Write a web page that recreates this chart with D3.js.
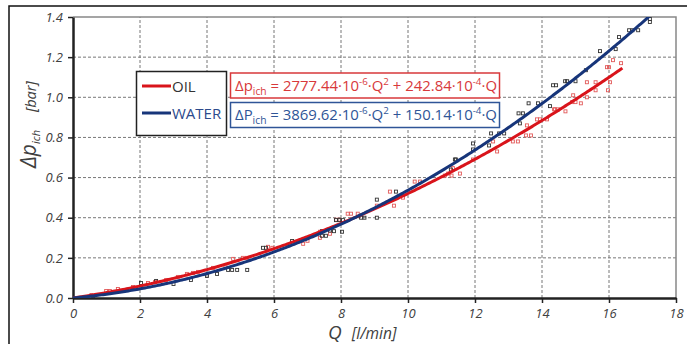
<!DOCTYPE html>
<html>
<head>
<meta charset="utf-8">
<script src="https://cdn.jsdelivr.net/npm/d3@7"></script>
<style>
  html, body { margin: 0; padding: 0; background: #fff; }
  svg { display: block; }
  text { font-family: "Open Sans", "DejaVu Sans", sans-serif; }
</style>
</head>
<body>
<svg id="chart" width="687" height="344"></svg>
<script>
// Axis ticks
const xTicks = [0, 2, 4, 6, 8, 10, 12, 14, 16, 18];
const yTicks = [0.0, 0.2, 0.4, 0.6, 0.8, 1.0, 1.2, 1.4];

// Series names and fitted coefficients [a, b] for dp = a*Q^2 + b*Q
const seriesNames = ["OIL", "WATER"];
const oilCoef = [2777.44e-6, 242.84e-4];
const waterCoef = [3869.62e-6, 150.14e-4];
const oilQmax = 16.4;
const waterQmax = 17.3;

// Measured points [Q l/min, dp bar]
const oilPoints = [
  [0.55,0.015],[0.99,0.035],[1.10,0.035],[1.34,0.045],[1.79,0.055],[2.24,0.075],
  [2.45,0.08],[2.78,0.09],[3.13,0.105],[3.40,0.12],[3.58,0.125],[3.73,0.13],
  [4.18,0.15],[4.55,0.16],[4.78,0.195],[5.07,0.2],[5.19,0.2],[5.82,0.255],
  [5.95,0.25],[6.87,0.27],[7.0,0.285],[7.37,0.33],[7.37,0.30],[7.67,0.32],
  [7.85,0.39],[7.95,0.39],[8.2,0.42],[8.3,0.42],[8.5,0.42],[9.07,0.46],
  [9.46,0.53],[9.58,0.46],[9.85,0.50],[10.2,0.58],[10.36,0.58],[11.1,0.61],
  [11.2,0.62],[11.3,0.61],[11.34,0.647],[11.55,0.62],[11.94,0.69],[12.54,0.78],
  [12.66,0.73],[13.13,0.78],[13.28,0.78],[13.52,0.81],[13.55,0.86],[13.67,0.81],
  [13.85,0.89],[13.94,0.89],[14.15,0.89],[14.36,0.94],[14.39,0.94],[14.48,0.94],
  [14.7,0.93],[14.9,0.976],[14.93,1.01],[15.0,0.976],[15.16,0.97],[15.34,1.0],
  [15.34,1.075],[15.6,1.075],[15.6,1.035],[15.94,1.15],[16.0,1.15],[15.97,1.035],
  [16.03,1.075],[16.12,1.185],[16.36,1.17]
];
const waterPoints = [
  [0.6,0.01],[1.2,0.03],[2.03,0.075],[2.48,0.085],[3.0,0.07],[3.52,0.09],
  [4.0,0.11],[4.3,0.12],[4.63,0.14],[4.75,0.14],[4.9,0.14],[5.2,0.14],
  [5.67,0.25],[5.76,0.25],[6.54,0.284],[7.43,0.333],[7.43,0.31],[7.55,0.31],
  [7.67,0.336],[7.79,0.333],[8.03,0.33],[7.85,0.388],[7.95,0.388],[8.06,0.388],
  [8.6,0.40],[8.7,0.40],[9.07,0.40],[9.07,0.49],[9.64,0.53],[11.28,0.64],
  [11.4,0.69],[11.43,0.69],[11.94,0.77],[11.94,0.74],[12.42,0.76],[12.48,0.82],
  [12.72,0.82],[12.87,0.82],[13.34,0.87],[13.3,0.92],[13.43,0.92],[13.6,0.97],
  [13.88,0.97],[14.24,0.956],[14.33,1.06],[14.42,1.06],[14.69,1.08],[14.75,1.08],
  [15.0,1.08],[15.31,1.135],[15.73,1.23],[16.2,1.24],[16.3,1.30],[16.6,1.334],
  [16.7,1.334],[16.87,1.334],[17.22,1.39],[17.22,1.375]
];

const svg = d3.select("#chart");
const x = d3.scaleLinear().domain([0, 18]).range([73, 676]);
const y = d3.scaleLinear().domain([0, 1.4]).range([298, 17]);

const RED = "#d9141b", NAVY = "#17357a";
const RED_TXT = "#d8393b", BLUE_TXT = "#2f5597";

// Outer frame
svg.append("path").attr("d", "M9,344 V6 H687")
  .attr("fill", "none").attr("stroke", "#111").attr("stroke-width", 1.5);

// Clip to plot area
svg.append("defs").append("clipPath").attr("id", "plotClip")
  .append("rect").attr("x", x(0)).attr("y", y(1.4))
  .attr("width", x(18) - x(0)).attr("height", y(0) - y(1.4));

// Grid
const grid = svg.append("g");
grid.selectAll(".gx").data(xTicks.filter(t => t > 0 && t < 18)).join("line")
  .attr("x1", d => x(d)).attr("x2", d => x(d))
  .attr("y1", y(0)).attr("y2", y(1.4))
  .attr("stroke", "#777").attr("stroke-width", 1).attr("stroke-dasharray", "3,2");
grid.selectAll(".gy").data(yTicks.filter(t => t > 0 && t < 1.4)).join("line")
  .attr("x1", x(0)).attr("x2", x(18))
  .attr("y1", d => y(d)).attr("y2", d => y(d))
  .attr("stroke", "#777").attr("stroke-width", 1).attr("stroke-dasharray", "3,2");

// Top and right border of the plot
svg.append("path")
  .attr("d", `M${x(0)},${y(1.4)} H${x(18)} V${y(0)}`)
  .attr("fill", "none").attr("stroke", "#888").attr("stroke-width", 1.5);

// Axes
const xAxis = svg.append("g").attr("transform", `translate(0,${y(0)})`)
  .call(d3.axisBottom(x).tickValues(xTicks).tickSize(5).tickSizeOuter(0).tickFormat(d3.format("d")));
const yAxis = svg.append("g").attr("transform", `translate(${x(0)},0)`)
  .call(d3.axisLeft(y).tickValues(yTicks).tickSize(5).tickSizeOuter(0).tickFormat(d3.format(".1f")));
[xAxis, yAxis].forEach(g => {
  g.select(".domain").attr("stroke", "#222").attr("stroke-width", 2.5);
  g.selectAll(".tick line").attr("stroke", "#222").attr("stroke-width", 1.5);
  g.selectAll(".tick text").attr("fill", "#404040").attr("font-size", 13)
    .attr("font-style", "italic").attr("font-family", "'Open Sans', sans-serif");
});
xAxis.selectAll(".tick text").attr("y", 11).attr("dy", "0.71em");
yAxis.selectAll(".tick text").attr("x", -10);

// Data points
const plot = svg.append("g").attr("clip-path", "url(#plotClip)");
plot.selectAll(".po").data(oilPoints).join("rect")
  .attr("x", d => x(d[0]) - 1.5).attr("y", d => y(d[1]) - 1.5)
  .attr("width", 3).attr("height", 3)
  .attr("fill", "none").attr("stroke", "#e25a5a").attr("stroke-width", 0.9);
plot.selectAll(".pw").data(waterPoints).join("rect")
  .attr("x", d => x(d[0]) - 1.5).attr("y", d => y(d[1]) - 1.5)
  .attr("width", 3).attr("height", 3)
  .attr("fill", "none").attr("stroke", "#333").attr("stroke-width", 0.9);

// Fitted curves
const curve = (c, qMax) => d3.range(0, qMax + 1e-9, 0.05).map(q => [q, c[0] * q * q + c[1] * q]);
const line = d3.line().x(d => x(d[0])).y(d => y(d[1]));
plot.append("path").datum(curve(oilCoef, oilQmax)).attr("d", line)
  .attr("fill", "none").attr("stroke", RED).attr("stroke-width", 3);
plot.append("path").datum(curve(waterCoef, waterQmax)).attr("d", line)
  .attr("fill", "none").attr("stroke", NAVY).attr("stroke-width", 3);

// Legend
const lg = svg.append("g");
lg.append("rect").attr("x", 136.5).attr("y", 71.5).attr("width", 90).attr("height", 64)
  .attr("fill", "#fff").attr("stroke", "#222").attr("stroke-width", 1.5);
[[RED, "#333", 86], [NAVY, "#2c4a8c", 113]].forEach((s, i) => {
  lg.append("line").attr("x1", 142).attr("x2", 171).attr("y1", s[2]).attr("y2", s[2])
    .attr("stroke", s[0]).attr("stroke-width", 3);
  lg.append("text").attr("x", 172).attr("y", s[2] + 5.5).attr("font-size", 15)
    .attr("fill", s[1]).text(seriesNames[i]);
});

// Equation boxes
function equation(yTop, color, sym, coefs) {
  const g = svg.append("g");
  g.append("rect").attr("x", 230.5).attr("y", yTop + 0.5).attr("width", 269).attr("height", 25)
    .attr("fill", "#fff").attr("stroke", color).attr("stroke-width", 1.5);
  const t = g.append("text").attr("x", 235).attr("y", yTop + 18).attr("font-size", 14.5)
    .attr("fill", color);
  t.append("tspan").text("\u0394" + sym);
  t.append("tspan").attr("font-size", 10).attr("dy", 4).text("ich");
  t.append("tspan").attr("dy", -4).text(` = ${coefs[0]}\u00b710`);
  t.append("tspan").attr("font-size", 9.5).attr("dy", -6).text("-6");
  t.append("tspan").attr("dy", 6).text("\u00b7Q");
  t.append("tspan").attr("font-size", 9.5).attr("dy", -6).text("2");
  t.append("tspan").attr("dy", 6).text(` + ${coefs[1]}\u00b710`);
  t.append("tspan").attr("font-size", 9.5).attr("dy", -6).text("-4");
  t.append("tspan").attr("dy", 6).text("\u00b7Q");
  t.attr("textLength", 262).attr("lengthAdjust", "spacingAndGlyphs");
}
equation(72.5, RED_TXT, "p", ["2777.44", "242.84"]);
equation(102, BLUE_TXT, "P", ["3869.62", "150.14"]);

// Axis titles
const xt = svg.append("text").attr("x", 328).attr("y", 339).attr("fill", "#404040");
xt.append("tspan").attr("font-size", 19).attr("font-style", "italic").text("Q");
xt.append("tspan").attr("font-size", 15.5).attr("font-style", "italic").attr("dx", 10).text("[l/min]");

const yt = svg.append("text").attr("transform", "translate(36,168) rotate(-90)")
  .attr("fill", "#404040").attr("font-style", "italic");
yt.append("tspan").attr("font-size", 21).text("\u0394p");
yt.append("tspan").attr("font-size", 11).attr("dy", 4).text("ich");
yt.append("tspan").attr("font-size", 14.5).attr("dy", -4).attr("dx", 18).text("[bar]");
</script>
</body>
</html>
